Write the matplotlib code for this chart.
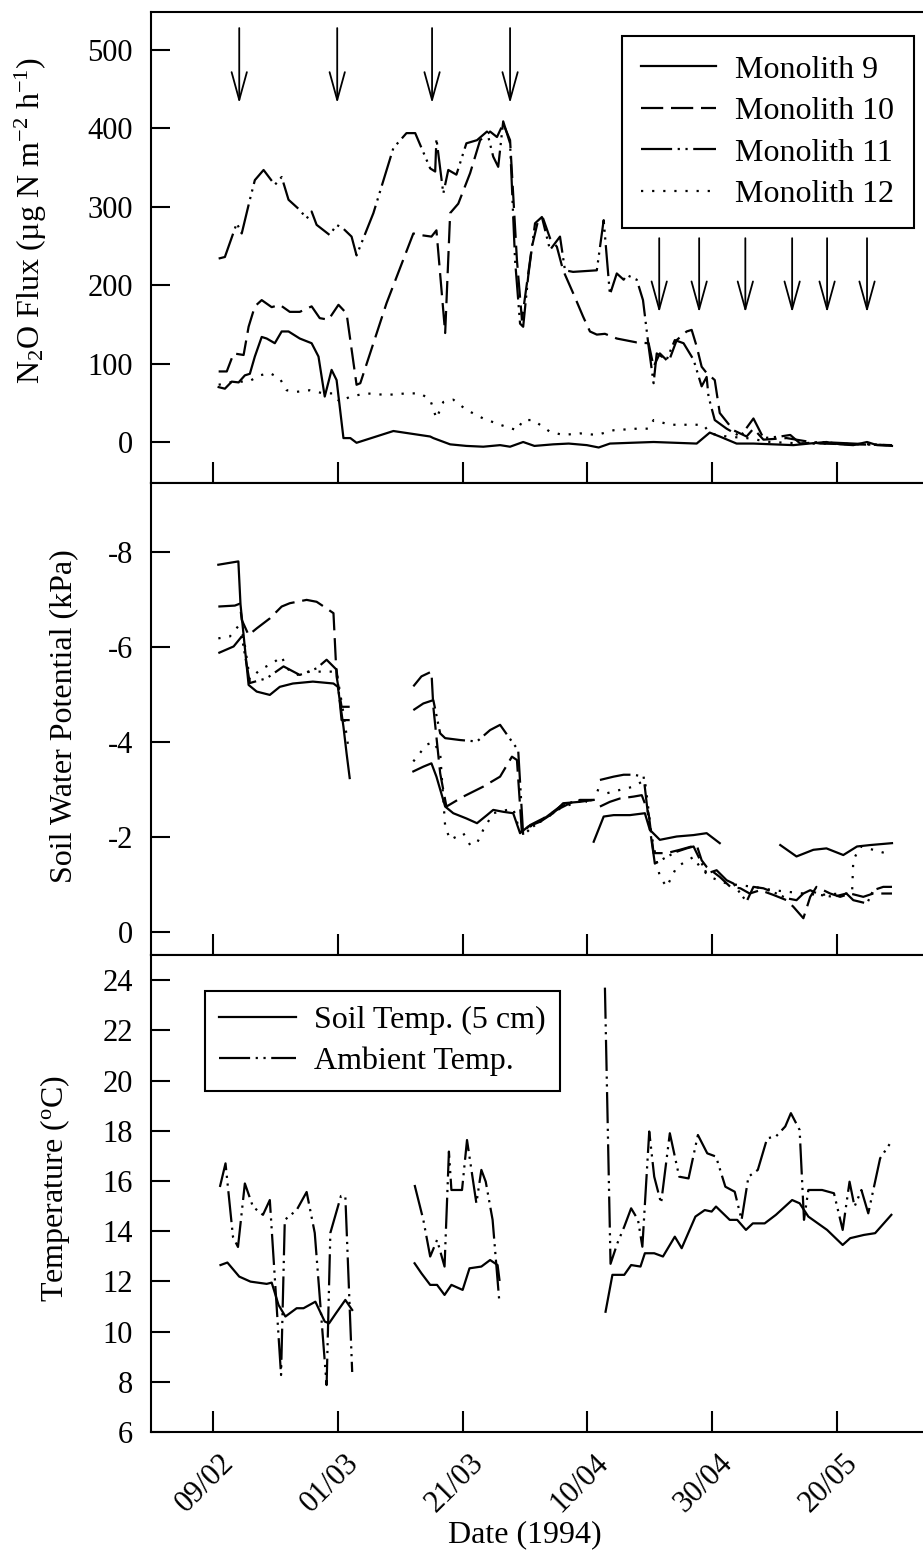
"""
N2O flux, soil water potential and temperature from the monolith trial, 1994
Three stacked panels sharing a date axis (day of year on x)
"""
import numpy as np
import matplotlib
matplotlib.use('Agg')
from matplotlib import pyplot as plt
from matplotlib import transforms

nan = np.nan

# ---- x axis: day of year 1994 ----
tick_days = [40, 60, 80, 100, 120, 140]
tick_labels = ['09/02', '01/03', '21/03', '10/04', '30/04', '20/05']

# ---- top panel: N2O flux (ug N m-2 h-1) ----
m9_day = [40.9, 41.9, 43.0, 44.1, 45.1, 45.9, 46.7, 47.8, 48.6, 49.9, 51.0, 52.1, 53.9, 55.8, 56.9,
          57.9, 59.0, 59.8, 60.9, 62.0, 63.0, 68.9, 74.8, 75.3, 78.0, 80.6, 83.3, 86.0, 87.6, 89.7,
          91.5, 94.5, 97.0, 99.9, 101.8, 103.6, 107.0, 110.6, 117.5, 119.6, 121.2, 123.9, 126.6,
          129.8, 133.0, 135.5, 138.3, 140.5, 142.6, 144.8, 146.4, 148.8]
m9_flux = [70, 68, 77, 76, 85, 87, 109, 134, 132, 126, 141, 141, 132, 126, 109,
           58, 92, 79, 5, 5, -1, 14, 7, 5, -3, -5, -6, -4, -6, 0,
           -5, -3, -2, -4, -7, -2, -1, 0, -2, 12, 7, -2, -2,
           -3, -4, -2, 0, -3, -4, 0, -4, -5]

m10_day = [40.9, 42.2, 43.3, 44.9, 45.7, 46.7, 47.8, 49.4, 50.7, 52.3, 53.9, 55.8, 57.1, 58.5, 60.1,
           61.4, 63.0, 63.6, 67.8, 72.1, 73.2, 75.0, 75.8, 77.2, 78.0, 79.3, 81.2, 82.8, 84.4, 85.5,
           86.5, 87.6, 88.7, 89.5, 90.0, 91.1, 92.1, 92.9, 94.0, 95.1, 96.1, 97.7, 99.3, 100.4, 101.5,
           102.8, 104.7, 107.9, 109.8, 110.6, 111.6, 113.0, 114.3, 115.9, 116.7, 117.5, 118.3, 119.1,
           120.4, 121.2, 123.4, 125.5, 126.6, 128.2, 131.9, 137.3, 142.6, 148.8]
m10_flux = [90, 90, 113, 111, 147, 173, 181, 172, 175, 166, 166, 173, 158, 156, 175,
            164, 73, 75, 177, 266, 264, 262, 270, 139, 292, 304, 343, 385, 396, 389,
            406, 385, 232, 156, 185, 249, 283, 285, 260, 249, 219, 190, 160, 141, 137,
            138, 132, 127, 126, 96, 113, 102, 130, 141, 143, 122, 96, 88,
            79, 37, 15, 7, 17, 3, 5, -2, -3, -4]

m11_day = [40.9, 41.9, 43.8, 44.6, 45.9, 46.7, 48.1, 49.9, 51.0, 52.1, 53.9, 55.0, 55.8, 56.6, 58.7,
           59.8, 60.9, 62.2, 63.0, 65.7, 68.9, 71.0, 72.4, 74.8, 75.6, 75.8, 76.9, 77.7, 79.0, 80.6,
           82.3, 83.9, 84.9, 85.7, 86.5, 87.6, 88.4, 89.2, 89.7, 90.5, 91.6, 92.7, 94.0, 95.6, 96.4,
           97.7, 101.5, 102.6, 103.4, 103.6, 104.7, 105.8, 106.3, 107.9, 108.9, 109.8, 110.6, 111.1,
           112.7, 114.0, 115.4, 117.0, 118.3, 119.1, 119.4, 120.4, 122.3, 124.5, 126.6, 128.2, 130.9,
           132.5, 134.1, 137.3, 142.6, 148.0]
m11_flux = [234, 236, 279, 266, 309, 334, 347, 328, 338, 309, 296, 285, 294, 277, 264,
            277, 272, 262, 238, 292, 375, 394, 394, 349, 345, 387, 317, 347, 341, 381,
            385, 396, 364, 351, 409, 381, 232, 151, 147, 211, 279, 287, 245, 262, 219,
            217, 219, 283, 207, 188, 215, 207, 213, 207, 181, 122, 75, 113,
            105, 130, 126, 105, 71, 83, 58, 28, 17, 7, 30, 5, 7,
            9, -2, 0, -2, -4]

m12_day = [40.9, 43.3, 45.7, 47.5, 49.1, 50.7, 51.8, 53.4, 55.5, 57.7, 59.3, 60.3, 62.0, 64.6, 67.8,
           71.0, 73.2, 74.8, 75.8, 76.9, 78.5, 80.6, 83.3, 86.0, 88.7, 89.7, 91.3, 94.0, 96.1, 98.8,
           101.5, 104.2, 107.9, 109.8, 110.6, 113.2, 118.6, 119.6, 122.3, 125.5, 129.3, 134.6, 140.0,
           148.0]
m12_flux = [73, 77, 77, 85, 88, 81, 66, 64, 66, 62, 62, 51, 58, 62, 60,
            62, 62, 54, 30, 51, 54, 41, 30, 22, 15, 28, 28, 13, 9, 11,
            9, 15, 17, 17, 28, 22, 22, 11, 7, 5, 0, -2, -2,
            -4]

# event arrows (dates only)
arrow_days_early = [44.2, 59.9, 75.1, 87.6]
arrow_days_late = [111.5, 117.9, 125.3, 132.8, 138.4, 144.8]

# ---- middle panel: soil water potential (kPa), nan = no reading ----
swp9_day = [40.85, 44.06, 44.4, 45.7, 47.0, 49.1, 50.7, 52.8, 56.0, 59.3, 60.0, 60.9, 61.4, 61.9, nan,
            72.1, 73.7, 75.0, 75.8, 77.2, 78.5, 80.6, 82.3, 83.9, 84.9, 86.5, 88.1, 89.2, 90.5, 92.4,
            94.5, 96.1, 98.8, 101.0, nan,
            101.0, 102.6, 104.2, 106.8, 109.2, 110.0, 111.6, 114.3, 117.0, 119.1, 121.2, nan,
            130.9, 133.5, 136.2, 138.3, 141.0, 143.2, 145.3, 148.8]
swp9 = [-7.73, -7.80, -6.9, -5.2, -5.06, -4.99, -5.16, -5.23, -5.27, -5.23, -5.16, -4.32, -3.76, -3.24, nan,
        -3.38, -3.48, -3.55, -3.27, -2.64, -2.5, -2.39, -2.29, -2.46, -2.57, -2.53, -2.5, -2.08, -2.22, -2.32,
        -2.5, -2.71, -2.74, -2.78, nan,
        -1.9, -2.43, -2.46, -2.46, -2.5, -2.15, -1.94, -2.01, -2.04, -2.08, -1.87, nan,
        -1.83, -1.59, -1.73, -1.76, -1.62, -1.80, -1.83, -1.87]

swp10_day = [40.85, 43.5, 44.3, 44.6, 45.7, 47.0, 49.1, 51.0, 52.3, 55.0, 56.6, 58.2, 59.3, 59.8, 60.6,
             61.9, nan,
             72.1, 73.4, 75.0, 75.3, 76.4, 77.4, 80.1, 83.3, 86.0, 87.9, 88.7, 89.5, 90.8, 92.9,
             95.1, 97.2, 98.8, 101.0, nan,
             102.0, 103.6, 105.2, 107.4, 108.7, 109.8, 110.6, 112.7, 114.8, 117.5, 118.3, 119.1, 121.2,
             122.9, 124.5, 126.0, 127.7, 129.8, 131.9, 133.0, 134.6, 135.7, 136.7, 138.9, 140.5, 142.1,
             144.2, 145.8, 148.8]
swp10 = [-6.85, -6.87, -6.91, -6.57, -6.25, -6.39, -6.60, -6.85, -6.92, -6.99, -6.95, -6.81, -6.71, -5.38, -4.74,
         -4.74, nan,
         -5.17, -5.38, -5.48, -4.74, -3.34, -2.64, -2.85, -3.06, -3.27, -3.69, -3.62, -2.08, -2.25, -2.39,
         -2.57, -2.71, -2.78, -2.78, nan,
         -2.64, -2.74, -2.81, -2.85, -2.88, -2.5, -1.66, -1.66, -1.73, -1.83, -1.51, -1.37, -1.16,
         -0.95, -0.92, -0.81, -0.88, -0.78, -0.67, -0.53, -0.29, -0.74, -0.95, -0.81, -0.74, -0.81,
         -0.74, -0.81, -0.81]

swp11_day = [40.85, 43.3, 44.6, 45.9, 48.6, 51.3, 53.9, 56.6, 58.2, 59.8, 60.6, 61.9, nan,
             72.1, 73.7, 75.3, 76.4, 77.2, 79.6, 82.3, 84.4, 86.0, 88.1, 88.9, 89.7, 91.3, 93.5,
             95.6, 97.7, 99.9, nan,
             102.0, 104.2, 105.8, 107.4, 109.0, 109.8, 110.8, 112.7, 114.3, 115.9, 117.0, 119.1, 120.7,
             122.3, 123.4, 124.5, 125.5, 126.6, 128.2, 130.3, 131.9, 133.5, 134.6, 135.7, 137.3, 139.4,
             141.5, 142.6, 144.8, 145.8, 147.4, 148.8]
swp11 = [-5.87, -6.01, -6.22, -5.24, -5.34, -5.59, -5.41, -5.55, -5.73, -5.52, -4.46, -4.46, nan,
         -4.67, -4.81, -4.88, -4.18, -4.08, -4.04, -4.01, -4.25, -4.36, -3.97, -3.83, -2.04, -2.22, -2.43,
         -2.64, -2.74, -2.74, nan,
         -3.2, -3.27, -3.31, -3.31, -3.27, -2.36, -1.44, -1.58, -1.69, -1.76, -1.80, -1.23, -1.3,
         -1.09, -1.02, -0.81, -0.64, -0.95, -0.92, -0.81, -0.71, -0.67, -0.81, -0.88, -0.78, -0.74,
         -0.81, -0.67, -0.6, -0.88, -0.95, -0.95]

swp12_day = [40.85, 42.7, 44.0, 44.9, 45.9, 47.5, 49.6, 51.0, 51.8, 53.4, 55.5, 59.8, 60.9, 61.7, nan,
             72.1, 74.2, 75.3, 76.4, 77.2, 78.0, 80.1, 81.2, 82.3, 83.3, 84.9, 86.5, 88.1, 89.2, 90.5,
             92.9, 95.6, 98.8, 101.0, nan,
             101.5, 103.1, 105.2, 107.4, 109.2, 110.3, 111.6, 112.7, 114.3, 117.0, 118.0, 119.6, 122.3,
             126.6, 129.8, 134.6, 137.3, 140.5, 142.4, 142.6, 143.7, 145.8, 148.8]
swp12 = [-6.18, -6.22, -6.43, -6.22, -5.31, -5.52, -5.66, -5.80, -5.55, -5.41, -5.48, -5.48, -4.60, -3.87, nan,
         -3.59, -3.94, -4.0, -3.76, -2.22, -1.94, -2.08, -1.83, -1.87, -2.15, -2.5, -2.55, -2.6, -2.1, -2.2,
         -2.35, -2.6, -2.76, -2.78, nan,
         -2.99, -2.92, -2.99, -3.06, -3.2, -2.01, -1.16, -0.95, -1.37, -1.58, -1.37, -1.16, -1.02,
         -0.95, -0.88, -0.81, -0.78, -0.81, -0.81, -1.51, -1.80, -1.73, -1.62]

# ---- bottom panel: temperature (C) ----
soil_day = [41.2, 42.3, 44.2, 46.0, 48.6, 49.4, 50.5, 51.6, 53.4, 54.5, 56.4, 57.9, 58.6, 59.7, 61.2,
            62.3, nan,
            72.3, 73.4, 74.8, 75.9, 77.1, 78.2, 80.0, 81.1, 83.0, 84.4, 85.6, 85.9, nan,
            102.9, 104.0, 105.9, 107.0, 108.5, 109.2, 110.7, 112.1, 114.0, 115.1, 117.3, 118.8, 119.9,
            120.6, 122.8, 124.0, 125.4, 126.5, 128.4, 130.2, 132.8, 134.0, 135.4, 138.4, 140.9, 142.1,
            144.3, 146.1, 148.7]
soil_temp = [12.65, 12.75, 12.19, 11.99, 11.9, 11.95, 11.06, 10.6, 10.93, 10.93, 11.19, 10.4, 10.33, 10.73, 11.26,
             10.86, nan,
             12.72, 12.32, 11.86, 11.86, 11.46, 11.86, 11.66, 12.52, 12.59, 12.85, 12.65, 12.06, nan,
             10.79, 12.26, 12.26, 12.65, 12.59, 13.12, 13.12, 12.99, 13.78, 13.32, 14.58, 14.84, 14.78,
             14.98, 14.45, 14.45, 14.05, 14.31, 14.31, 14.65, 15.24, 15.11, 14.58, 14.05, 13.45, 13.72,
             13.85, 13.92, 14.65]

amb_day = [41.1, 42.0, 43.2, 44.0, 45.1, 46.4, 48.0, 49.1, 50.9, 51.5, 53.4, 55.0, 56.3, 58.2, 58.8,
           60.5, 61.2, 62.3, nan,
           72.3, 73.7, 74.8, 75.9, 77.1, 77.8, 78.2, 79.9, 80.7, 82.2, 83.0, 83.7, 84.8, 85.9, nan,
           102.8, 103.7, 104.8, 105.9, 107.0, 108.1, 108.8, 109.9, 110.7, 111.8, 113.2, 114.7, 116.2,
           117.7, 119.2, 120.6, 122.1, 123.6, 124.7, 125.8, 127.3, 128.8, 130.2, 131.7, 132.6, 134.0,
           134.7, 135.4, 137.6, 139.5, 140.9, 142.0, 142.8, 143.9, 145.0, 146.9, 148.7]
amb_temp = [15.76, 16.7, 13.77, 13.37, 15.9, 14.97, 14.65, 15.24, 8.27, 14.45, 14.84, 15.56, 13.93, 7.87, 13.93,
            15.4, 15.4, 8.39, nan,
            15.84, 14.45, 12.99, 13.65, 12.59, 17.17, 15.64, 15.64, 17.63, 15.11, 16.44, 15.97, 14.45, 11.13, nan,
            23.7, 12.7, 13.52, 14.18, 14.91, 14.45, 13.38, 17.97, 16.17, 15.11, 17.9, 16.17, 16.1,
            17.83, 17.1, 16.97, 15.77, 15.57, 14.45, 16.17, 16.44, 17.7, 17.77, 18.17, 18.7, 18.03,
            14.45, 15.64, 15.64, 15.51, 14.05, 15.97, 14.98, 15.64, 14.71, 16.9, 17.57]

# ---- styles ----
plt.rcParams['font.family'] = ['Liberation Serif', 'DejaVu Serif']
plt.rcParams['mathtext.fontset'] = 'custom'
plt.rcParams['mathtext.rm'] = 'Liberation Serif'
plt.rcParams['mathtext.it'] = 'Liberation Serif:italic'
plt.rcParams['axes.unicode_minus'] = False

LW = 1.6
STYLE = {
    'm9': '-',
    'm10': (0, (10, 3.5)),
    'm11': (0, (14, 2.5, 1, 2.5, 1, 2.5)),
    'm12': (0, (1, 4)),
}
TICK_FS = 22
LABEL_FS = 23

fig = plt.figure(figsize=(9.23, 15.56), dpi=100)
W_PX, H_PX = 923.0, 1556.0
left = 151 / W_PX
width = (960 - 151) / W_PX  # right edge runs off the page like the scan
ax1 = fig.add_axes([left, 1 - 483 / H_PX, width, 471 / H_PX])
ax2 = fig.add_axes([left, 1 - 955 / H_PX, width, 472 / H_PX])
ax3 = fig.add_axes([left, 1 - 1432 / H_PX, width, 477 / H_PX])

for ax in (ax1, ax2, ax3):
    ax.set_xlim(30.06, 159.7)
    ax.set_xticks(tick_days)
    ax.spines['right'].set_visible(False)
    for s in ax.spines.values():
        s.set_linewidth(1.5)
    ax.tick_params(axis='x', direction='in', length=15, width=1.5, labelsize=TICK_FS, pad=12)
    ax.tick_params(axis='y', direction='in', length=14, width=1.5, labelsize=TICK_FS, pad=13)
    ax.tick_params(top=False, right=False)

ax1.tick_params(labelbottom=False)
ax2.tick_params(labelbottom=False)

# top panel
l9, = ax1.plot(m9_day, m9_flux, color='k', lw=LW, ls=STYLE['m9'])
l10, = ax1.plot(m10_day, m10_flux, color='k', lw=LW, ls=STYLE['m10'])
l11, = ax1.plot(m11_day, m11_flux, color='k', lw=LW, ls=STYLE['m11'])
l12, = ax1.plot(m12_day, m12_flux, color='k', lw=LW, ls=STYLE['m12'])
ax1.set_ylim(-52.3, 548.5)
ax1.set_yticks([0, 100, 200, 300, 400, 500])

arrow_kw = dict(arrowstyle='->,head_length=2.0,head_width=0.55', lw=1.3, color='k',
                shrinkA=0, shrinkB=0, mutation_scale=10)
for d in arrow_days_early:
    ax1.annotate('', xy=(d, 432), xytext=(d, 528), arrowprops=arrow_kw)
for d in arrow_days_late:
    ax1.annotate('', xy=(d, 165), xytext=(d, 260), arrowprops=arrow_kw)

leg1 = ax1.legend([l9, l10, l11, l12], ['Monolith 9', 'Monolith 10', 'Monolith 11', 'Monolith 12'],
                  loc='upper left', bbox_to_anchor=(622 / W_PX, 1 - 36 / H_PX),
                  bbox_transform=fig.transFigure, fontsize=LABEL_FS, frameon=True, fancybox=False,
                  edgecolor='k', framealpha=1, handlelength=2.35, handletextpad=0.6,
                  borderpad=0.6, labelspacing=0.38, borderaxespad=0)
leg1.get_frame().set_linewidth(1.5)

# middle panel (axis reversed, -8 at the top)
ax2.plot(swp9_day, swp9, color='k', lw=LW, ls=STYLE['m9'])
ax2.plot(swp10_day, swp10, color='k', lw=LW, ls=STYLE['m10'])
ax2.plot(swp11_day, swp11, color='k', lw=LW, ls=STYLE['m11'])
ax2.plot(swp12_day, swp12, color='k', lw=LW, ls=STYLE['m12'])
ax2.set_ylim(0.484, -9.45)
ax2.set_yticks([-8, -6, -4, -2, 0])

# bottom panel
ls_, = ax3.plot(soil_day, soil_temp, color='k', lw=LW, ls='-')
la_, = ax3.plot(amb_day, amb_temp, color='k', lw=LW, ls=STYLE['m11'])
ax3.set_ylim(6, 25.0)
ax3.set_yticks(range(6, 25, 2))
ax3.set_xticklabels(tick_labels)
offset = transforms.ScaledTranslation(6 / 100, 0, fig.dpi_scale_trans)
for lab in ax3.get_xticklabels():
    lab.set_rotation(45)
    lab.set_ha('right')
    lab.set_va('top')
    lab.set_rotation_mode('anchor')
    lab.set_transform(lab.get_transform() + offset)

leg3 = ax3.legend([ls_, la_], ['Soil Temp. (5 cm)', 'Ambient Temp.'],
                  loc='upper left', bbox_to_anchor=(205 / W_PX, 1 - 991 / H_PX),
                  bbox_transform=fig.transFigure, fontsize=LABEL_FS, frameon=True, fancybox=False,
                  edgecolor='k', framealpha=1, handlelength=2.4, handletextpad=0.55,
                  borderpad=0.45, labelspacing=0.38, borderaxespad=0)
leg3.get_frame().set_linewidth(1.5)

# axis titles placed by hand like the scan
fig.text(31 / W_PX, 1 - 220 / H_PX, 'N$_2$O Flux (\u00b5g N m$^{-2}$ h$^{-1}$)',
         rotation=90, ha='center', va='center', fontsize=LABEL_FS)
fig.text(64 / W_PX, 1 - 716 / H_PX, 'Soil Water Potential (kPa)',
         rotation=90, ha='center', va='center', fontsize=LABEL_FS)
fig.text(55 / W_PX, 1 - 1189 / H_PX, r'Temperature ($^{\mathrm{o}}$C)',
         rotation=90, ha='center', va='center', fontsize=LABEL_FS)
fig.text(525 / W_PX, 1 - 1535 / H_PX, 'Date (1994)', ha='center', va='center', fontsize=LABEL_FS)

fig.savefig('out.png', dpi=100, facecolor='white')
